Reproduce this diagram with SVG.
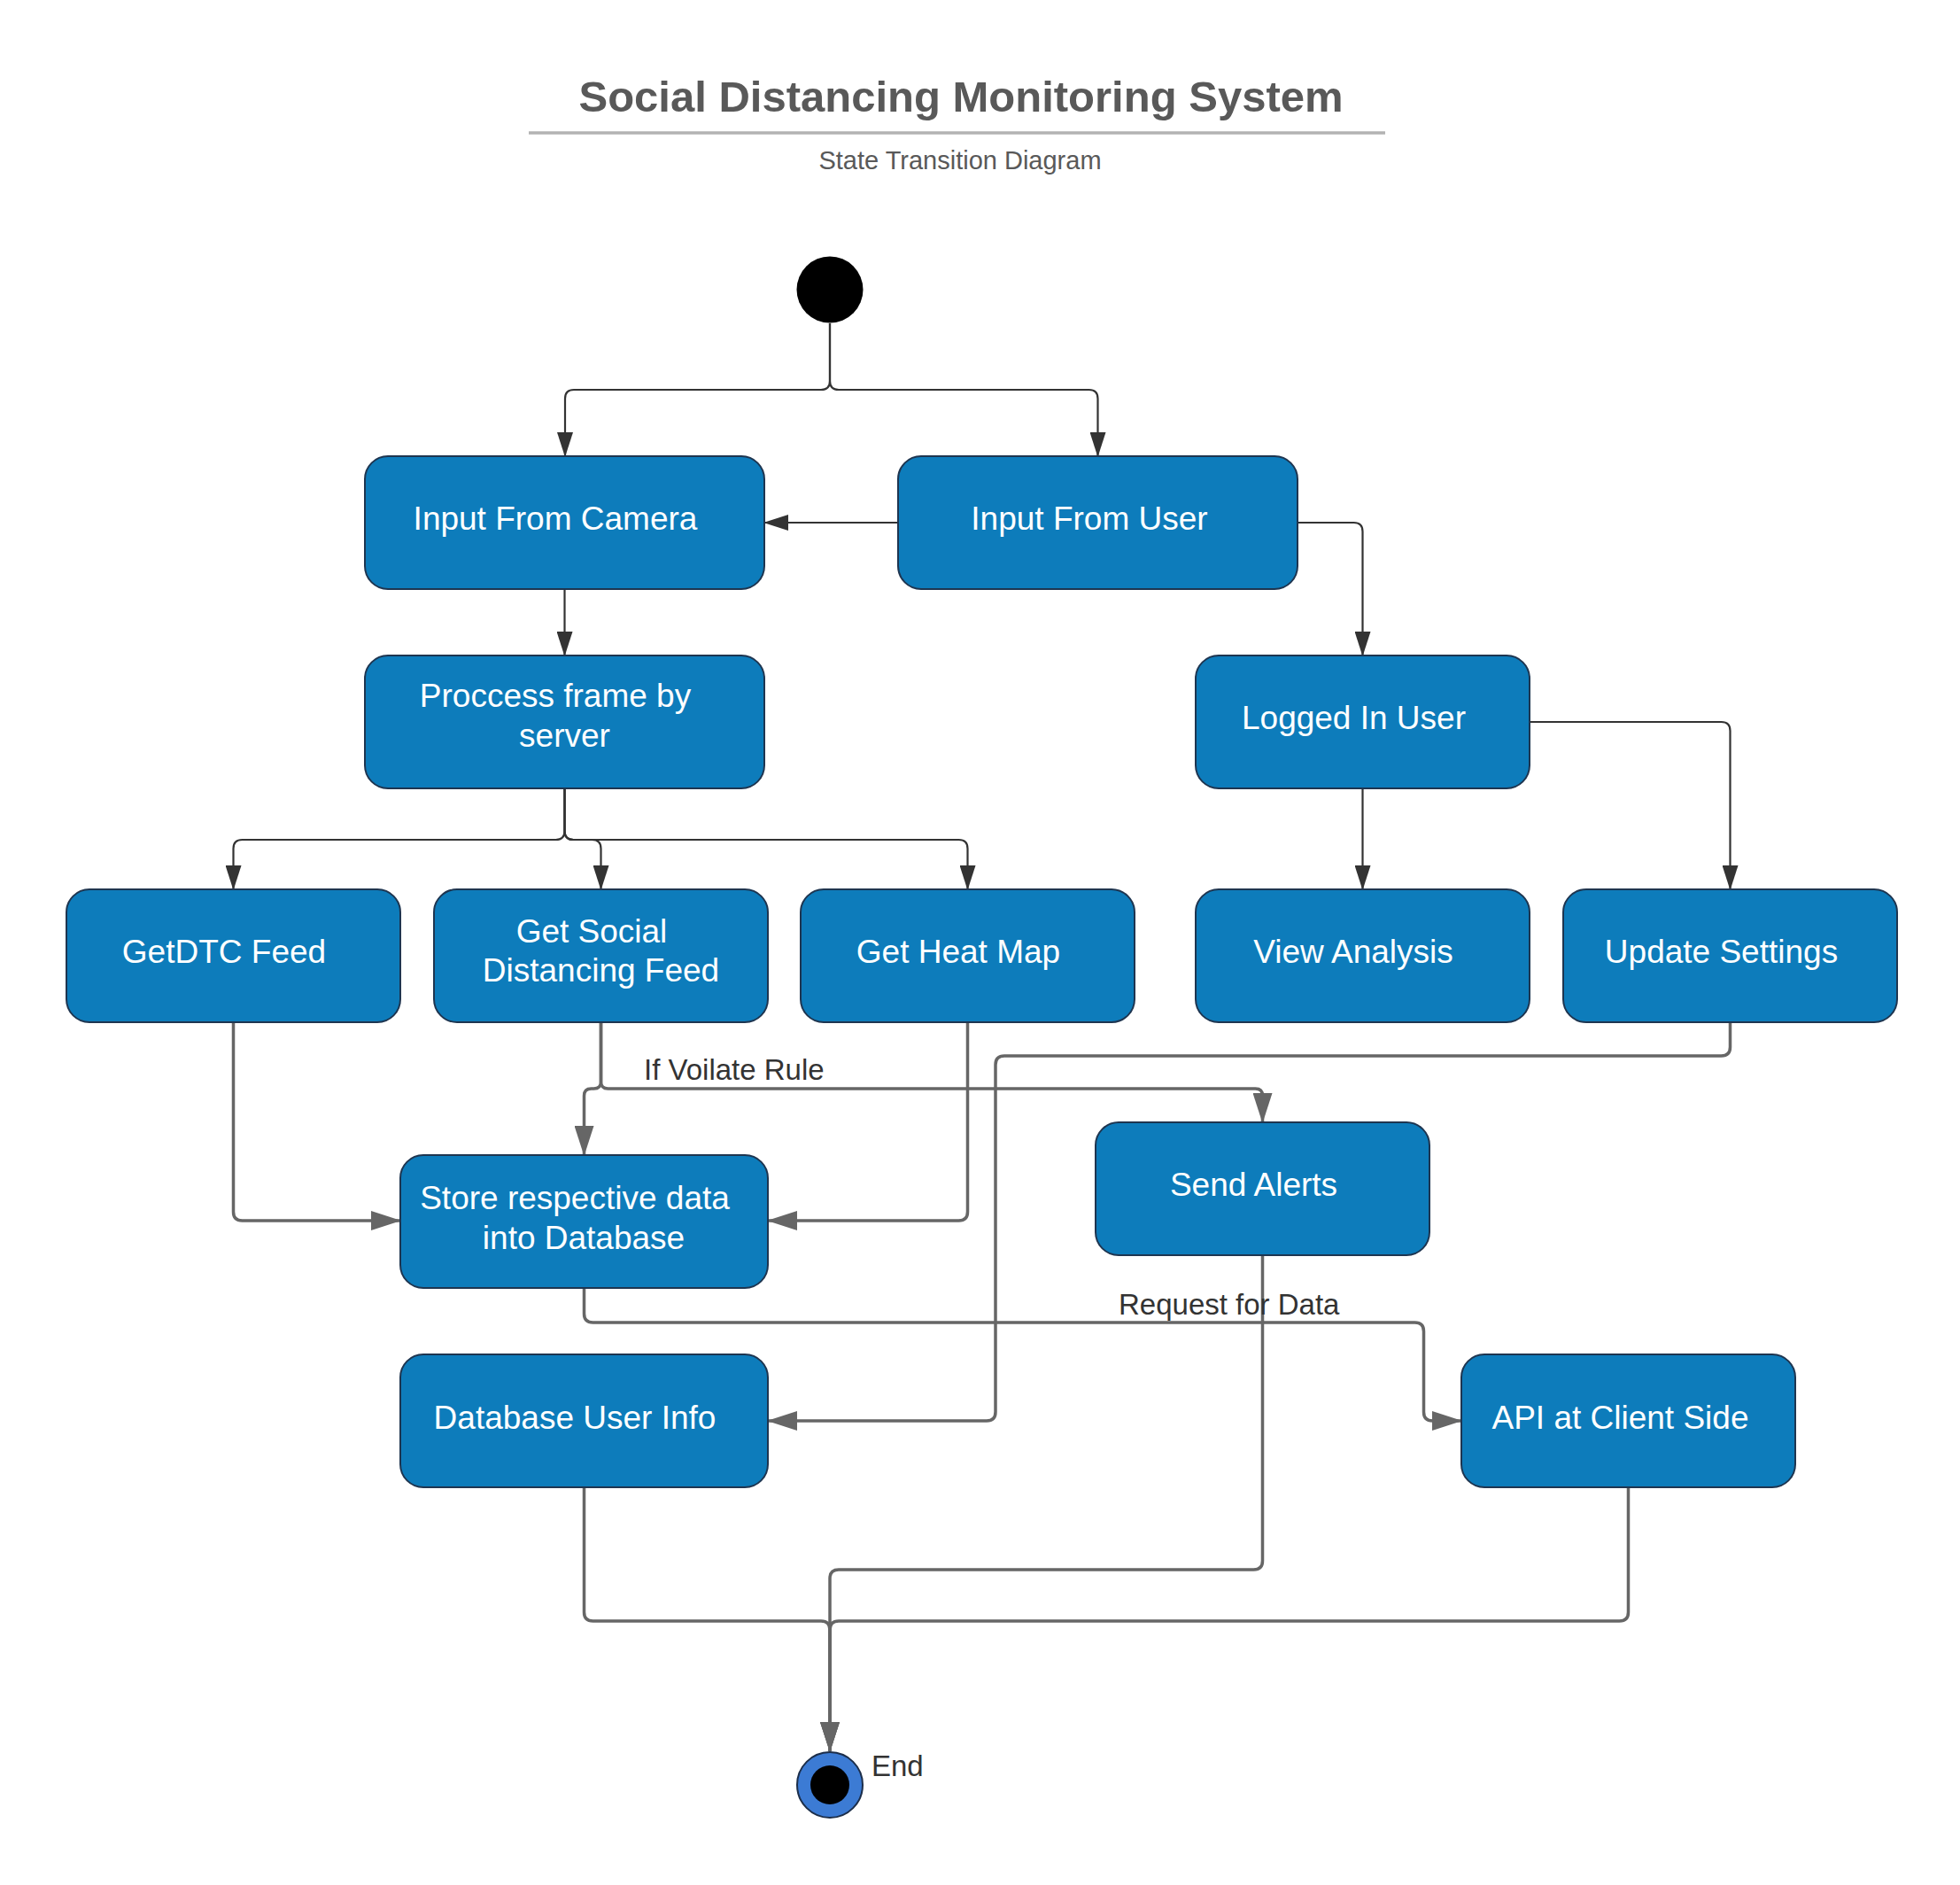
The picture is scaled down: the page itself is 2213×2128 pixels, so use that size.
<svg xmlns="http://www.w3.org/2000/svg" width="2213" height="2128" viewBox="0 0 2213 2128">
<style>
.node rect{fill:#0d7cbb;stroke:#1e3550;stroke-width:2}
.node text{fill:#ffffff;font-family:"Liberation Sans",Arial,sans-serif;font-size:37px;text-anchor:middle}
.cd{fill:none;stroke:#333333;stroke-width:2.2}
.cg{fill:none;stroke:#666666;stroke-width:3.5}
.lbl{fill:#333333;font-family:"Liberation Sans",Arial,sans-serif;font-size:33px}
</style>
<defs>
<marker id="ad" markerUnits="userSpaceOnUse" markerWidth="28" markerHeight="18" refX="27" refY="9" orient="auto"><path d="M0,0 L28,9 L0,18 z" fill="#333333"/></marker>
<marker id="ag" markerUnits="userSpaceOnUse" markerWidth="34" markerHeight="22" refX="33" refY="11" orient="auto"><path d="M0,0 L34,11 L0,22 z" fill="#666666"/></marker>
</defs>
<rect width="2213" height="2128" fill="#ffffff"/>
<g id="title">
<text x="1085" y="126" font-family="'Liberation Sans',Arial,sans-serif" font-size="49" font-weight="bold" fill="#595959" text-anchor="middle">Social Distancing Monitoring System</text>
<line x1="597" y1="150" x2="1564" y2="150" stroke="#b3b3b3" stroke-width="3.5"/>
<text x="1084" y="191" font-family="'Liberation Sans',Arial,sans-serif" font-size="29" fill="#595959" text-anchor="middle">State Transition Diagram</text>
</g>
<g id="connectors">
<path class="cd" d="M937,365 V430 Q937,440 927,440 H648 Q638,440 638,450 V515" marker-end="url(#ad)"/>
<path class="cd" d="M937,365 V430 Q937,440 947,440 H1229.5 Q1239.5,440 1239.5,450 V515" marker-end="url(#ad)"/>
<path class="cd" d="M1014,590 H863" marker-end="url(#ad)"/>
<path class="cd" d="M1465,590 H1528.5 Q1538.5,590 1538.5,600 V740" marker-end="url(#ad)"/>
<path class="cd" d="M637.5,665 V740" marker-end="url(#ad)"/>
<path class="cd" d="M637.5,890 V938 Q637.5,948 627.5,948 H273.5 Q263.5,948 263.5,958 V1004" marker-end="url(#ad)"/>
<path class="cd" d="M637.5,890 V938 Q637.5,948 647.5,948 H668.5 Q678.5,948 678.5,958 V1004" marker-end="url(#ad)"/>
<path class="cd" d="M637.5,890 V938 Q637.5,948 647.5,948 H1082.5 Q1092.5,948 1092.5,958 V1004" marker-end="url(#ad)"/>
<path class="cd" d="M1538.5,890 V1004" marker-end="url(#ad)"/>
<path class="cd" d="M1727,815 H1943.5 Q1953.5,815 1953.5,825 V1004" marker-end="url(#ad)"/>
<path class="cg" d="M263.5,1154 V1368 Q263.5,1378 273.5,1378 H452" marker-end="url(#ag)"/>
<path class="cg" d="M1092.5,1154 V1368 Q1092.5,1378 1082.5,1378 H867" marker-end="url(#ag)"/>
<path class="cg" d="M678.5,1154 V1221 Q678.5,1229 670.5,1229 H667.5 Q659.5,1229 659.5,1237 V1304" marker-end="url(#ag)"/>
<path class="cg" d="M678.5,1154 V1221 Q678.5,1229 686.5,1229 H1417.5 Q1425.5,1229 1425.5,1237 V1267" marker-end="url(#ag)"/>
<path class="cg" d="M1953.5,1154 V1182 Q1953.5,1192 1943.5,1192 H1134 Q1124,1192 1124,1202 V1594 Q1124,1604 1114,1604 H867" marker-end="url(#ag)"/>
<path class="cg" d="M659.5,1454 V1483 Q659.5,1493 669.5,1493 H1597.5 Q1607.5,1493 1607.5,1503 V1594 Q1607.5,1604 1617.5,1604 H1650" marker-end="url(#ag)"/>
<path class="cg" d="M1425.5,1417 V1762 Q1425.5,1772 1415.5,1772 H947 Q937,1772 937,1782 V1977" marker-end="url(#ag)"/>
<path class="cg" d="M659.5,1679 V1820 Q659.5,1830 669.5,1830 H927 Q937,1830 937,1840 V1977" marker-end="url(#ag)"/>
<path class="cg" d="M1838.5,1679 V1820 Q1838.5,1830 1828.5,1830 H947 Q937,1830 937,1840 V1977" marker-end="url(#ag)"/>
<text class="lbl" x="727" y="1219">If Voilate Rule</text>
<text class="lbl" x="1263" y="1484">Request for Data</text>
</g>
<g id="start"><circle cx="937" cy="327" r="37.5" fill="#000000"/></g>
<g id="camera" class="node"><rect x="412" y="515" width="451" height="150" rx="26"/><text x="627" y="598">Input From Camera</text></g>
<g id="user" class="node"><rect x="1014" y="515" width="451" height="150" rx="26"/><text x="1230" y="598">Input From User</text></g>
<g id="process" class="node"><rect x="412" y="740" width="451" height="150" rx="26"/><text x="627" y="798">Proccess frame by</text><text x="637.5" y="843">server</text></g>
<g id="logged" class="node"><rect x="1350" y="740" width="377" height="150" rx="26"/><text x="1528.5" y="823">Logged In User</text></g>
<g id="getdtc" class="node"><rect x="75" y="1004" width="377" height="150" rx="26"/><text x="253" y="1087">GetDTC Feed</text></g>
<g id="social" class="node"><rect x="490" y="1004" width="377" height="150" rx="26"/><text x="668" y="1064">Get Social</text><text x="678.5" y="1108">Distancing Feed</text></g>
<g id="heatmap" class="node"><rect x="904" y="1004" width="377" height="150" rx="26"/><text x="1082" y="1087">Get Heat Map</text></g>
<g id="view" class="node"><rect x="1350" y="1004" width="377" height="150" rx="26"/><text x="1528" y="1087">View Analysis</text></g>
<g id="update" class="node"><rect x="1765" y="1004" width="377" height="150" rx="26"/><text x="1943.5" y="1087">Update Settings</text></g>
<g id="store" class="node"><rect x="452" y="1304" width="415" height="150" rx="26"/><text x="649" y="1365">Store respective data</text><text x="659" y="1410">into Database</text></g>
<g id="alerts" class="node"><rect x="1237" y="1267" width="377" height="150" rx="26"/><text x="1415.5" y="1350">Send Alerts</text></g>
<g id="dbuser" class="node"><rect x="452" y="1529" width="415" height="150" rx="26"/><text x="649" y="1613">Database User Info</text></g>
<g id="api" class="node"><rect x="1650" y="1529" width="377" height="150" rx="26"/><text x="1829.5" y="1613">API at Client Side</text></g>
<g id="end"><circle cx="937" cy="2015" r="37" fill="#3c7bd4" stroke="#1c2e4a" stroke-width="2"/><circle cx="937" cy="2015" r="22" fill="#000000"/><text class="lbl" x="984" y="2005">End</text></g>
</svg>
